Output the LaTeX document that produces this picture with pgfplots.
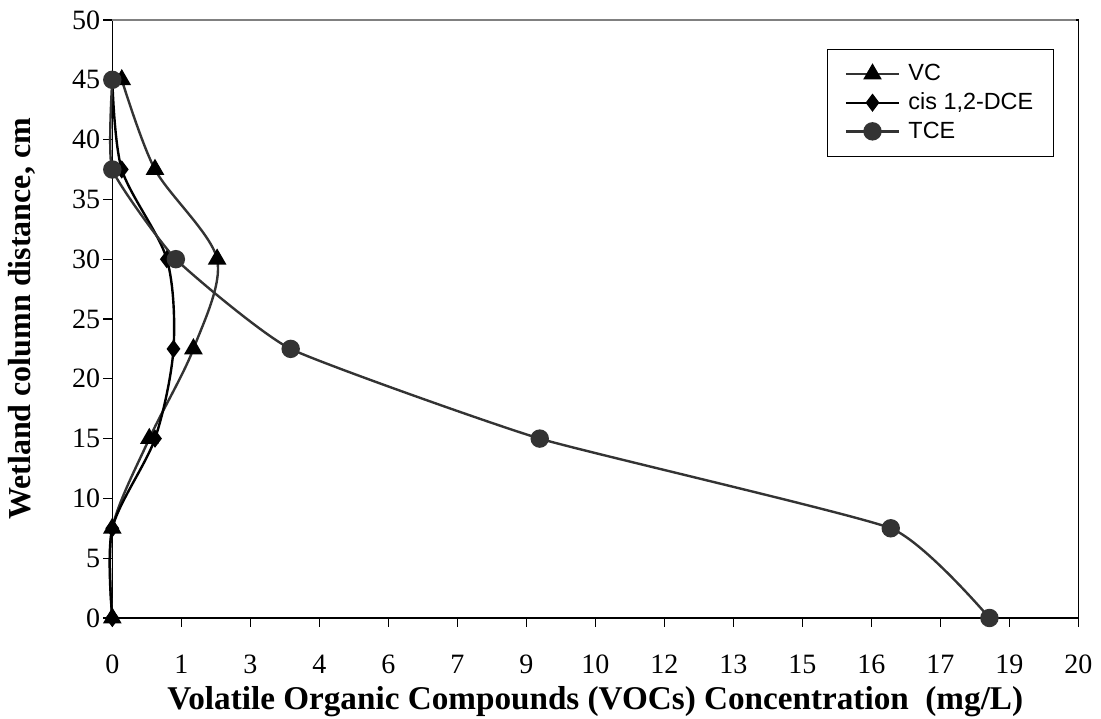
\documentclass[border=0pt]{standalone}
\usepackage{fontspec}
\setmainfont{Liberation Serif}
\newfontfamily\arialfont{Liberation Sans}
\usepackage{pgfplots}
\pgfplotsset{compat=1.18}
\definecolor{dgray}{HTML}{333333}
\begin{document}
\begin{tikzpicture}
\begin{axis}[
  scale only axis,
  width=483pt, height=299pt,
  xmin=0, xmax=20.3636, ymin=0, ymax=50,
  xtick={0,1.4545,2.9091,4.3636,5.8182,7.2727,8.7273,10.1818,11.6364,13.0909,14.5455,16,17.4545,18.9091,20.3636},
  xticklabels={0,1,3,4,6,7,9,10,12,13,15,16,17,19,20},
  ytick={0,5,...,50},
  tick align=outside,
  xtick pos=bottom, ytick pos=left,
  major tick length=4.5pt,
  tick style={black, line width=0.6pt},
  axis line style={black, line width=0.7pt},
  /pgf/number format/assume math mode=true,
  ticklabel style={font=\fontsize{14}{16}\selectfont},
  xticklabel shift=10.5pt,
  yticklabel style={xshift=2pt},
  xlabel={\textbf{Volatile Organic Compounds (VOCs) Concentration\ \ (mg/L)}},
  ylabel={\textbf{Wetland column distance, cm}},
  xlabel style={font=\fontsize{16.6}{18}\selectfont, at={(axis description cs:0.5,0)}, anchor=center, yshift=-42pt},
  ylabel style={font=\fontsize{16}{18}\selectfont, at={(axis description cs:0,0.5)}, anchor=center, yshift=45pt},
  legend style={at={(0.74,0.9515)}, anchor=north west, draw=black,
    font=\arialfont\fontsize{11.7}{14}\selectfont, row sep=0.5pt,
    nodes={inner xsep=1.5pt},
    /tikz/every odd column/.append style={column sep=2.5pt},
    inner xsep=8.5pt, inner ysep=5.5pt, legend cell align=left},
  legend image code/.code={\draw[line width=1.2pt, mark repeat=2,mark phase=2] plot coordinates {(0cm,0cm) (0.47cm,0cm) (0.94cm,0cm)};},
  clip=false,
]
\addplot[dgray, line width=1.2pt, smooth, mark=triangle*, mark size=4.2pt,
  mark options={black, fill=black, solid}] coordinates {
  (0,0) (0,7.5) (0.78,15) (1.71,22.5) (2.21,30) (0.9,37.5) (0.2,45)};
\addlegendentry{VC}
\addplot[black, line width=1.2pt, smooth, mark=diamond*, mark size=3.6pt,
  mark options={black, fill=black, solid}] coordinates {
  (0,0) (0,7.5) (0.9,15) (1.29,22.5) (1.15,30) (0.2,37.5) (0,45)};
\addlegendentry{cis 1,2-DCE}
\addplot[dgray, line width=1.2pt, smooth, tension=0.27, mark=*, mark size=4pt,
  mark options={dgray, fill=dgray, solid}] coordinates {
  (18.49,0) (16.41,7.5) (9.01,15) (3.76,22.5) (1.34,30) (0,37.5) (0,45)};
\addlegendentry{TCE}
\draw[gray, line width=0.8pt] (rel axis cs:0,1) -- (rel axis cs:0.998,1);
\coordinate (sw) at (rel axis cs:0,0);
\coordinate (ne) at (rel axis cs:1,1);
\end{axis}
\pgfresetboundingbox
\path ([shift={(-56.15pt,-50.5pt)}]sw) rectangle ([shift={(11.35pt,10pt)}]ne);
\end{tikzpicture}
\end{document}
